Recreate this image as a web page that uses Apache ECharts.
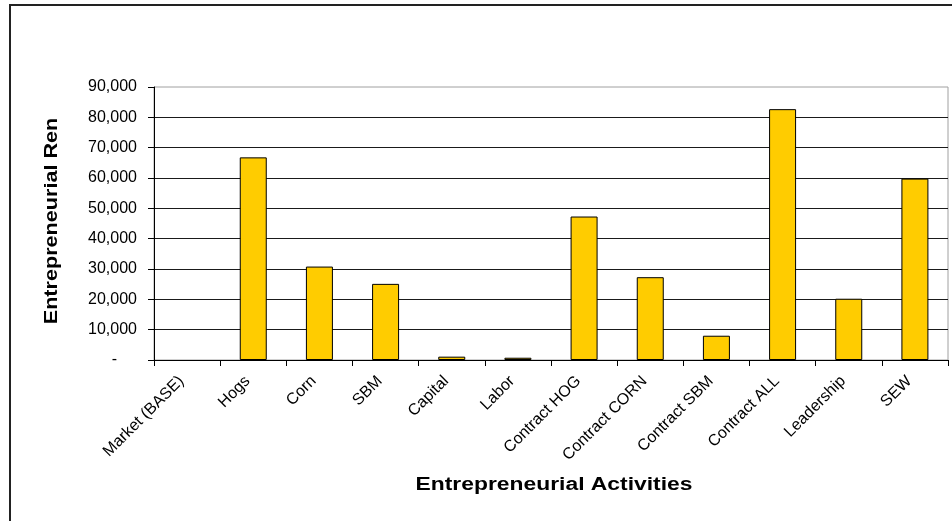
<!DOCTYPE html>
<html>
<head>
<meta charset="utf-8">
<script src="https://cdn.jsdelivr.net/npm/echarts@6/dist/echarts.min.js"></script>
<style>
html,body{margin:0;padding:0;background:#fff;}
#c{width:952px;height:521px;}
</style>
</head>
<body>
<div id="c"></div>
<script>
const categories = ["Market (BASE)", "Hogs", "Corn", "SBM", "Capital", "Labor", "Contract HOG", "Contract CORN", "Contract SBM", "Contract ALL", "Leadership", "SEW"];
const rentValues = [0, 66800, 30800, 25100, 1100, 750, 47300, 27300, 8000, 82700, 20200, 59800];
const yTicks = { min: 0, max: 90000, step: 10000 };
const yTitle = "Entrepreneurial Ren";
const xTitle = "Entrepreneurial Activities";

const FONT = '"Liberation Sans", Arial, sans-serif';
const chart = echarts.init(document.getElementById('c'), null, { renderer: 'canvas' });

const barData = rentValues.map(function (v) {
  return v === 0 ? { value: v, itemStyle: { borderWidth: 0 } } : v;
});

chart.setOption({
  backgroundColor: '#ffffff',
  animation: false,
  grid: {
    left: 154, top: 87, right: 4, bottom: 161,
    show: true, borderColor: '#a0a0a0', borderWidth: 1, backgroundColor: 'transparent'
  },
  xAxis: {
    type: 'category',
    data: categories,
    boundaryGap: true,
    axisLine: { show: true, lineStyle: { color: '#000', width: 1 } },
    axisTick: { show: true, length: 6, lineStyle: { color: '#000' } },
    axisLabel: {
      interval: 0, rotate: 45, margin: 13, padding: [0, 8, 0, 0],
      fontFamily: FONT, fontSize: 16, color: '#000'
    },
    splitLine: { show: false }
  },
  yAxis: {
    type: 'value',
    min: yTicks.min, max: yTicks.max, interval: yTicks.step,
    axisLine: { show: true, lineStyle: { color: '#000', width: 1 } },
    axisTick: { show: true, length: 6, lineStyle: { color: '#000' } },
    axisLabel: {
      margin: 17, fontFamily: FONT, fontSize: 16, color: '#000',
      formatter: function (v) {
        if (v === 0) return '{d|-}';
        return v.toLocaleString('en-US');
      },
      rich: { d: { fontFamily: FONT, fontSize: 16, color: '#000', padding: [0, 20, 0, 0] } }
    },
    splitLine: { show: true, showMaxLine: false, lineStyle: { color: '#1a1a1a', width: 1 } }
  },
  series: [{
    type: 'bar',
    data: barData,
    barWidth: 27,
    itemStyle: { color: '#FFCC00', borderColor: '#000', borderWidth: 1 }
  }],
  graphic: [
    {
      type: 'polyline',
      shape: { points: [[10, 521], [10, 5], [952, 5]] },
      style: { stroke: '#222', lineWidth: 2, fill: null },
      silent: true
    },
    {
      type: 'text',
      x: 52, y: 221,
      rotation: Math.PI / 2,
      scaleX: 1.2,
      style: {
        text: yTitle, font: 'bold 18px "Liberation Sans", Arial, sans-serif',
        fill: '#000', align: 'center', verticalAlign: 'middle'
      }
    },
    {
      type: 'text',
      x: 554, y: 485,
      scaleX: 1.27,
      style: {
        text: xTitle, font: 'bold 18px "Liberation Sans", Arial, sans-serif',
        fill: '#000', align: 'center', verticalAlign: 'middle'
      }
    }
  ]
});
</script>
</body>
</html>
